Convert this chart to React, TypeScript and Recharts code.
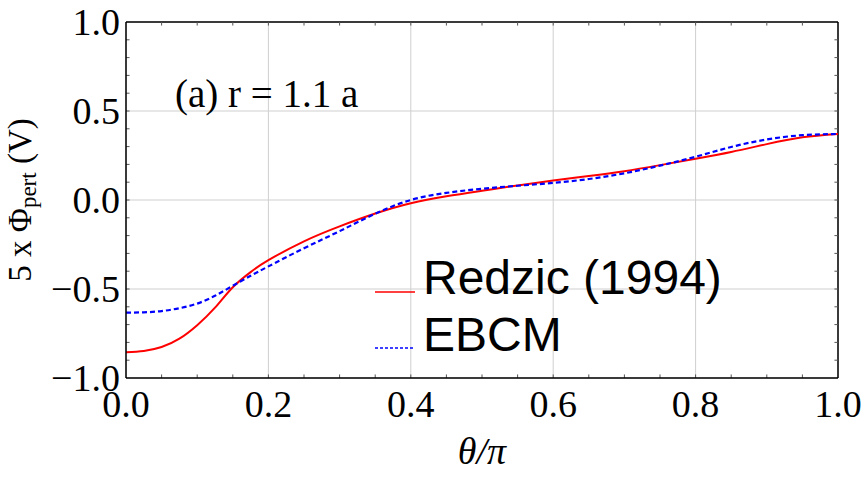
import React from "react";
import {
  LineChart,
  Line,
  XAxis,
  YAxis,
  CartesianGrid,
  ReferenceLine,
  Legend,
  Label,
} from "recharts";

// ---- data ----
const theta = [0, 0.025, 0.05, 0.075, 0.1, 0.125, 0.15, 0.175, 0.2, 0.25, 0.3, 0.35, 0.4, 0.45, 0.5, 0.55, 0.6, 0.65, 0.7, 0.75, 0.8, 0.85, 0.9, 0.95, 1.0];
const redzic = [-0.855, -0.848, -0.826, -0.779, -0.703, -0.605, -0.49, -0.405, -0.338, -0.232, -0.148, -0.076, -0.018, 0.021, 0.052, 0.082, 0.11, 0.135, 0.162, 0.196, 0.232, 0.27, 0.314, 0.352, 0.371];
const ebcm = [-0.633, -0.631, -0.624, -0.608, -0.582, -0.538, -0.482, -0.426, -0.373, -0.271, -0.175, -0.077, 0.0, 0.04, 0.063, 0.08, 0.096, 0.118, 0.15, 0.193, 0.243, 0.298, 0.34, 0.364, 0.371];

const xTicks = [0, 0.2, 0.4, 0.6, 0.8, 1.0];
const yTicks = [-1, -0.5, 0, 0.5, 1];
const xMinorTicks = [0.05, 0.1, 0.15, 0.2, 0.25, 0.3, 0.35, 0.4, 0.45, 0.5, 0.55, 0.6, 0.65, 0.7, 0.75, 0.8, 0.85, 0.9, 0.95];
const yMinorTicks = [-0.9, -0.8, -0.7, -0.6, -0.5, -0.4, -0.3, -0.2, -0.1, 0, 0.1, 0.2, 0.3, 0.4, 0.5, 0.6, 0.7, 0.8, 0.9];
const seriesNames = ["Redzic (1994)", "EBCM"];
const annotationText = "(a) r = 1.1 a";
const xLabelText = "θ/π";

const data = theta.map((t, i) => ({ theta: t, redzic: redzic[i], ebcm: ebcm[i] }));

const SERIF = "'Liberation Serif', 'Times New Roman', serif";
const SANS = "'Liberation Sans', Arial, sans-serif";

const fmt = (v: number) => (v < 0 ? "\u2212" + Math.abs(v).toFixed(1) : v.toFixed(1));

const legendStyles: Record<string, { color: string; dash?: string; width: number; lineY: number }> = {
  redzic: { color: "#ff0000", width: 1.6, lineY: 42 },
  ebcm: { color: "#0000ff", dash: "3 2", width: 1.6, lineY: 41 },
};

const renderLegend = (props: any) => {
  const payload = [...(props.payload || [])].sort(
    (a: any, b: any) => seriesNames.indexOf(a.value) - seriesNames.indexOf(b.value)
  );
  return (
    <div>
      {payload.map((entry: any) => {
        const st = legendStyles[entry.dataKey] || { color: entry.color, width: 2, lineY: 42 };
        return (
          <div key={entry.dataKey} style={{ display: "flex", height: 56.7, alignItems: "flex-start" }}>
            <svg width={48} height={56.7} style={{ display: "block" }}>
              <line x1={0} x2={40} y1={st.lineY} y2={st.lineY} stroke={st.color} strokeWidth={st.width} strokeDasharray={st.dash} />
            </svg>
            <span style={{ fontFamily: SANS, fontSize: 48, lineHeight: "56.7px", color: "#000", whiteSpace: "nowrap" }}>
              {entry.value}
            </span>
          </div>
        );
      })}
    </div>
  );
};

const YLabel = (props: any) => {
  const vb = props.viewBox || { x: 26, y: 22, width: 100, height: 356 };
  const cx = vb.x + 5;
  const cy = vb.y + vb.height / 2;
  return (
    <text
      x={cx}
      y={cy}
      transform={`rotate(-90, ${cx}, ${cy})`}
      textAnchor="middle"
      fontFamily={SERIF}
      fontSize={33}
      fill="#000"
    >
      <tspan>5 x Φ</tspan>
      <tspan fontSize={23} dy={5}>pert</tspan>
      <tspan dy={-5}> (V)</tspan>
    </text>
  );
};

const Annotation = (props: any) => {
  const vb = props.viewBox || { x: 26, y: 22, width: 100, height: 356 };
  return (
    <text x={vb.x + vb.width + 49} y={vb.y + 85} fontFamily={SERIF} fontSize={39} fill="#000">
      {annotationText}
    </text>
  );
};

const XLabel = (props: any) => {
  const vb = props.viewBox || { x: 126, y: 378, width: 712, height: 60 };
  return (
    <text x={vb.x + vb.width / 2} y={vb.y + 86} textAnchor="middle" fontFamily={SERIF} fontStyle="italic" fontSize={38} fill="#000">
      {xLabelText}
    </text>
  );
};

export default function App() {
  return (
    <div style={{ width: 864, height: 477, background: "#fff", position: "relative" }}>
      <style>{"body{margin:0;background:#fff;}"}</style>
      <LineChart width={864} height={477} data={data} margin={{ top: 22, right: 26, bottom: 39, left: 26 }}>
        <CartesianGrid stroke="#cfcfcf" strokeWidth={1} />
        <XAxis
          dataKey="theta"
          type="number"
          domain={[0, 1]}
          ticks={xTicks}
          tickFormatter={fmt}
          allowDataOverflow
          height={60}
          tickSize={0}
          tickMargin={12}
          tickLine={false}
          axisLine={{ stroke: "#000", strokeWidth: 1.5 }}
          tick={{ fontFamily: SERIF, fontSize: 38, fill: "#000" }}
        >
          <Label content={XLabel} />
        </XAxis>
        <YAxis
          type="number"
          domain={[-1, 1]}
          ticks={yTicks}
          tickFormatter={fmt}
          allowDataOverflow
          width={100}
          tickSize={0}
          tickMargin={6}
          tickLine={false}
          axisLine={{ stroke: "#000", strokeWidth: 1.5 }}
          tick={{ fontFamily: SERIF, fontSize: 38, fill: "#000" }}
        >
          <Label content={YLabel} />
          <Label content={Annotation} />
        </YAxis>
        <ReferenceLine y={1} stroke="#000" strokeWidth={1.5} />
        <ReferenceLine x={1} stroke="#000" strokeWidth={1.5} />
        {xMinorTicks.map((t) => (
          <ReferenceLine key={"xb" + t} segment={[{ x: t, y: -1 }, { x: t, y: -0.98 }]} stroke="#555" strokeWidth={1} />
        ))}
        {xMinorTicks.map((t) => (
          <ReferenceLine key={"xt" + t} segment={[{ x: t, y: 1 }, { x: t, y: 0.98 }]} stroke="#555" strokeWidth={1} />
        ))}
        {yMinorTicks.map((t) => (
          <ReferenceLine key={"yl" + t} segment={[{ x: 0, y: t }, { x: 0.005, y: t }]} stroke="#555" strokeWidth={1} />
        ))}
        {yMinorTicks.map((t) => (
          <ReferenceLine key={"yr" + t} segment={[{ x: 1, y: t }, { x: 0.995, y: t }]} stroke="#555" strokeWidth={1} />
        ))}
        <Line
          type="natural"
          dataKey="redzic"
          name={seriesNames[0]}
          stroke="#ff0000"
          strokeWidth={2}
          dot={false}
          activeDot={false}
          isAnimationActive={false}
        />
        <Line
          type="natural"
          dataKey="ebcm"
          name={seriesNames[1]}
          stroke="#0000ff"
          strokeWidth={2.2}
          strokeDasharray="5 3"
          dot={false}
          activeDot={false}
          isAnimationActive={false}
        />
        <Legend
          layout="vertical"
          align="center"
          verticalAlign="middle"
          content={renderLegend}
          wrapperStyle={{ left: 375, top: 250, width: 400 }}
        />
      </LineChart>
    </div>
  );
}
